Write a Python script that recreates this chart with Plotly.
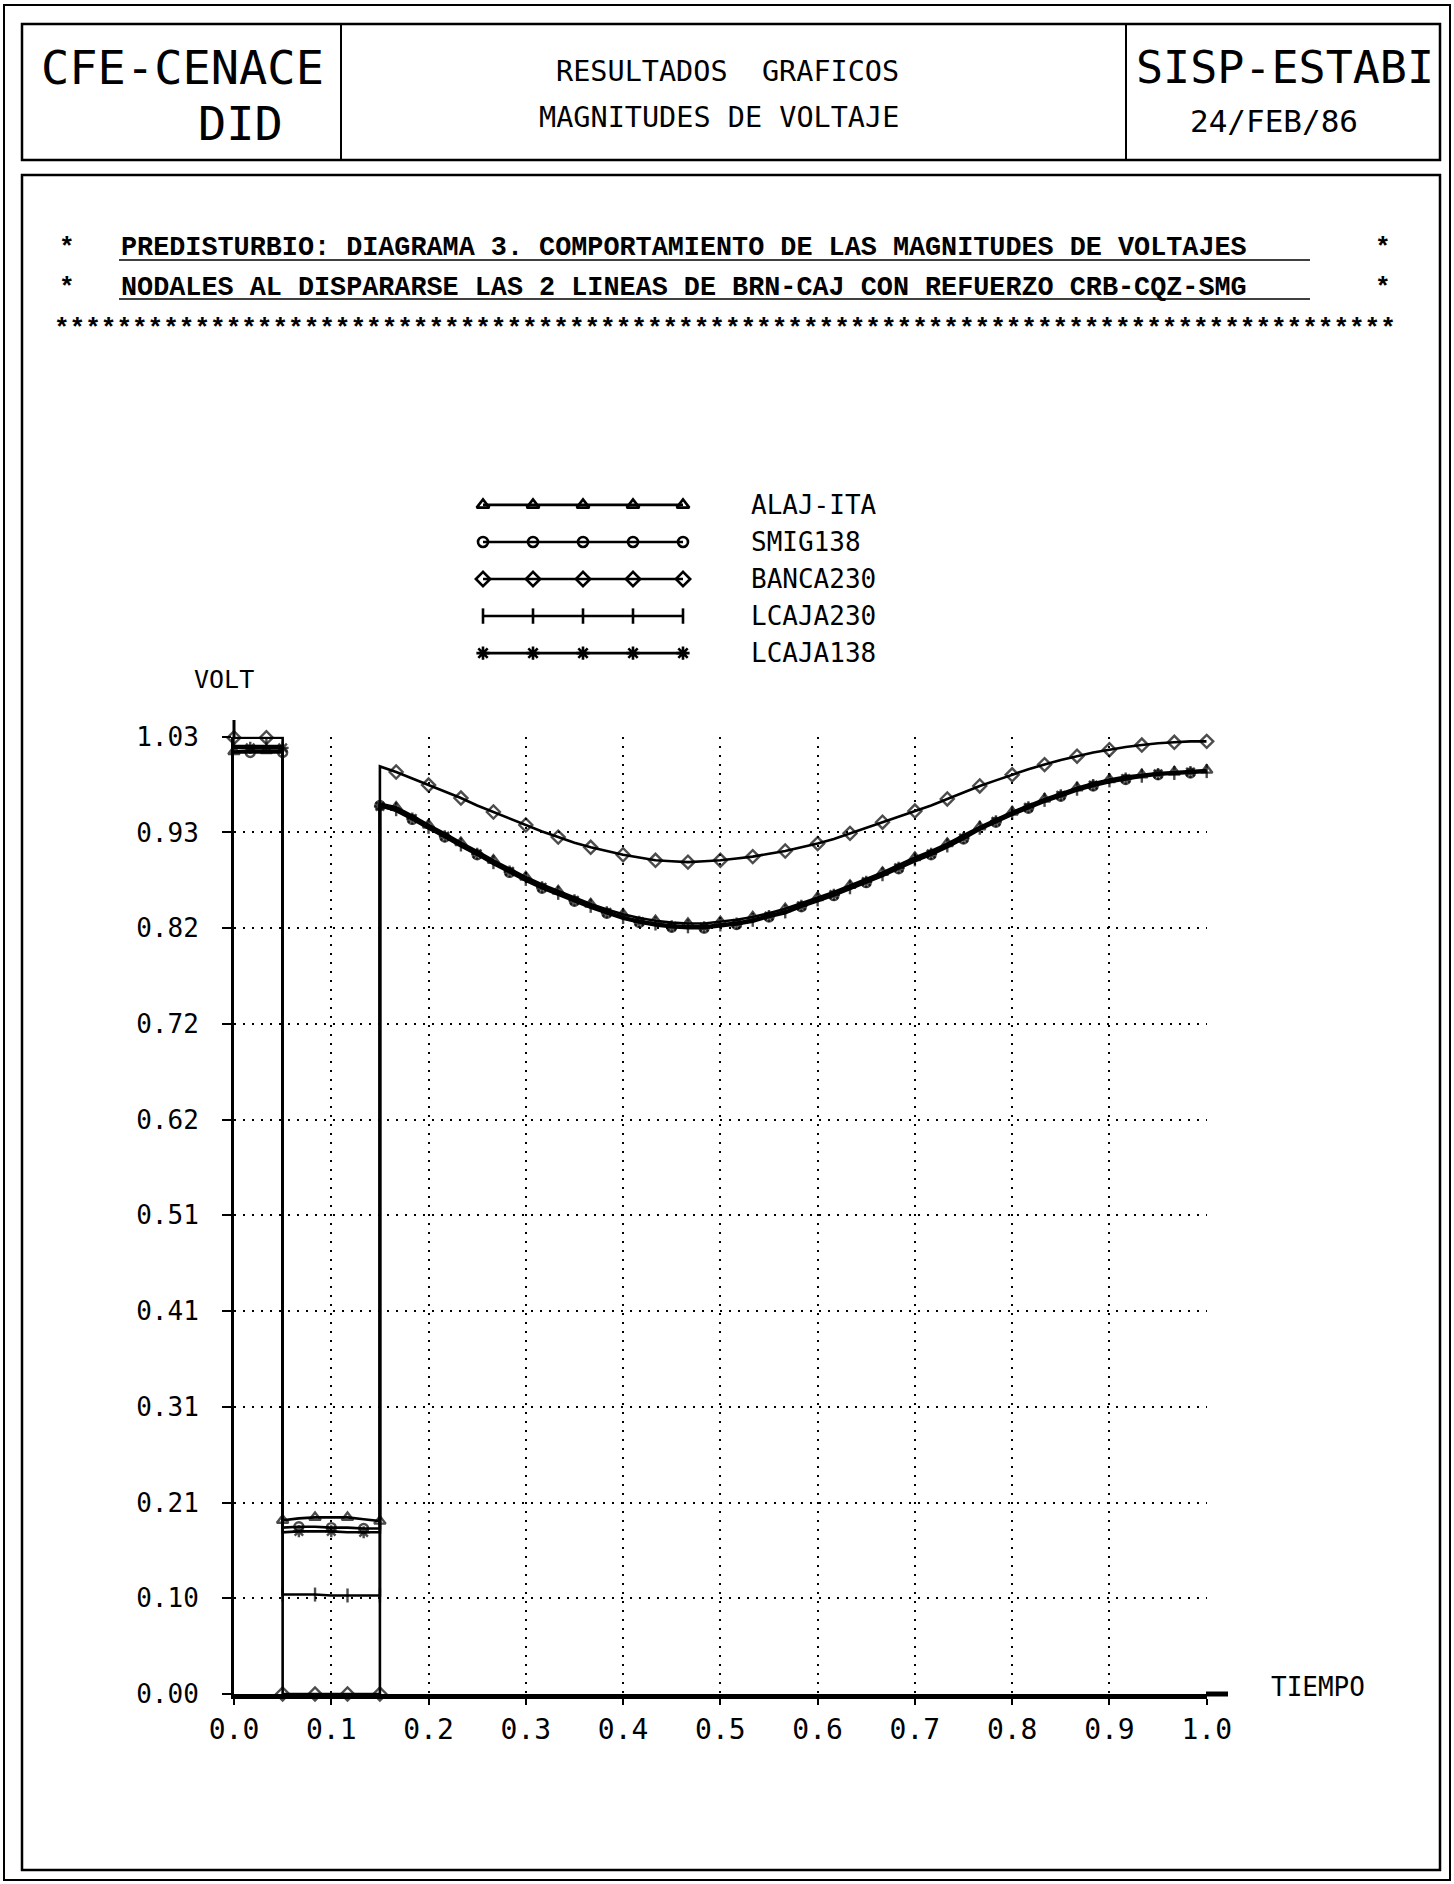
import plotly.graph_objects as go

W, H = 1454, 1884

# ---------------- data ----------------
SERIES = ["ALAJ-ITA", "SMIG138", "BANCA230", "LCAJA230", "LCAJA138"]

TIME_PRE = [0.0, 0.0167, 0.0333, 0.05]
TIME_FAULT = [0.05, 0.0667, 0.0833, 0.1, 0.1167, 0.1333, 0.15]
TIME_POST = [0.15, 0.1667, 0.1833, 0.2, 0.2167, 0.2333, 0.25, 0.2667, 0.2833, 0.3,
             0.3167, 0.3333, 0.35, 0.3667, 0.3833, 0.4, 0.4167, 0.4333, 0.45, 0.4667,
             0.4833, 0.5, 0.5167, 0.5333, 0.55, 0.5667, 0.5833, 0.6, 0.6167, 0.6333,
             0.65, 0.6667, 0.6833, 0.7, 0.7167, 0.7333, 0.75, 0.7667, 0.7833, 0.8,
             0.8167, 0.8333, 0.85, 0.8667, 0.8833, 0.9, 0.9167, 0.9333, 0.95, 0.9667,
             0.9833, 1.0]

ALAJ_PRE = [1.014, 1.015, 1.015, 1.015]
ALAJ_FAULT = [0.187, 0.189, 0.190, 0.190, 0.190, 0.188, 0.186]
ALAJ_POST = [0.958, 0.954, 0.945, 0.935, 0.926, 0.916, 0.907, 0.897, 0.888, 0.879,
             0.871, 0.864, 0.857, 0.850, 0.844, 0.839, 0.835, 0.832, 0.830, 0.829,
             0.829, 0.831, 0.833, 0.836, 0.840, 0.845, 0.851, 0.857, 0.863, 0.870,
             0.877, 0.884, 0.892, 0.900, 0.907, 0.915, 0.924, 0.933, 0.941, 0.949,
             0.956, 0.963, 0.969, 0.975, 0.980, 0.984, 0.987, 0.989, 0.991, 0.992,
             0.993, 0.994]

SMIG_PRE = [1.013, 1.013, 1.013, 1.013]
SMIG_FAULT = [0.179, 0.180, 0.180, 0.179, 0.179, 0.178, 0.178]
SMIG_POST = [0.956, 0.950, 0.941, 0.931, 0.922, 0.912, 0.903, 0.893, 0.884, 0.875,
             0.867, 0.860, 0.853, 0.846, 0.840, 0.834, 0.830, 0.827, 0.825, 0.824,
             0.824, 0.826, 0.828, 0.831, 0.836, 0.840, 0.847, 0.853, 0.859, 0.866,
             0.873, 0.880, 0.888, 0.896, 0.903, 0.911, 0.920, 0.930, 0.938, 0.946,
             0.953, 0.960, 0.966, 0.972, 0.977, 0.981, 0.984, 0.987, 0.989, 0.990,
             0.991, 0.992]

BANCA_PRE = [1.029, 1.029, 1.029, 1.029]
BANCA_FAULT = [0.0, 0.0, 0.0, 0.0, 0.0, 0.0, 0.0]
BANCA_POST = [0.998, 0.992, 0.985, 0.978, 0.971, 0.964, 0.956, 0.949, 0.942, 0.935,
              0.928, 0.922, 0.916, 0.911, 0.907, 0.903, 0.900, 0.897, 0.896, 0.895,
              0.896, 0.897, 0.899, 0.901, 0.904, 0.907, 0.911, 0.915, 0.920, 0.926,
              0.932, 0.938, 0.944, 0.950, 0.956, 0.963, 0.970, 0.977, 0.983, 0.989,
              0.995, 1.000, 1.005, 1.009, 1.013, 1.016, 1.019, 1.021, 1.023, 1.024,
              1.025, 1.025]

LC230_PRE = [1.020, 1.020, 1.020, 1.020]
LC230_FAULT = [0.107, 0.107, 0.107, 0.106, 0.106, 0.106, 0.106]
LC230_POST = [0.957, 0.952, 0.943, 0.933, 0.924, 0.914, 0.905, 0.895, 0.886, 0.877,
              0.869, 0.862, 0.855, 0.848, 0.842, 0.836, 0.832, 0.829, 0.827, 0.826,
              0.826, 0.828, 0.830, 0.833, 0.838, 0.842, 0.849, 0.855, 0.861, 0.868,
              0.875, 0.882, 0.890, 0.898, 0.905, 0.913, 0.922, 0.932, 0.940, 0.948,
              0.955, 0.962, 0.968, 0.974, 0.979, 0.983, 0.986, 0.988, 0.990, 0.991,
              0.992, 0.993]

LC138_PRE = [1.018, 1.018, 1.018, 1.018]
LC138_FAULT = [0.174, 0.175, 0.175, 0.175, 0.174, 0.174, 0.174]
LC138_POST = [0.955, 0.951, 0.942, 0.932, 0.923, 0.913, 0.904, 0.894, 0.885, 0.876,
              0.868, 0.861, 0.854, 0.847, 0.841, 0.835, 0.831, 0.828, 0.826, 0.825,
              0.825, 0.827, 0.829, 0.832, 0.837, 0.841, 0.848, 0.854, 0.860, 0.867,
              0.874, 0.881, 0.889, 0.897, 0.904, 0.912, 0.921, 0.931, 0.939, 0.947,
              0.954, 0.961, 0.967, 0.973, 0.978, 0.982, 0.985, 0.988, 0.990, 0.991,
              0.992, 0.993]

X_TICKS = [0.0, 0.1, 0.2, 0.3, 0.4, 0.5, 0.6, 0.7, 0.8, 0.9, 1.0]
X_LABELS = ["0.0", "0.1", "0.2", "0.3", "0.4", "0.5", "0.6", "0.7", "0.8", "0.9", "1.0"]
Y_TICKS = [0.0, 0.103, 0.206, 0.309, 0.412, 0.515, 0.618, 0.721, 0.824, 0.927, 1.03]
Y_LABELS = ["0.00", "0.10", "0.21", "0.31", "0.41", "0.51", "0.62", "0.72", "0.82", "0.93", "1.03"]

LEGEND_SAMPLES = [1, 2, 3, 4, 5]

# ---------------- styling ----------------
MONO = "DejaVu Sans Mono"
TYPE = "Liberation Mono"
INK = "black"

STYLE = {
    "ALAJ-ITA": dict(symbol="triangle-up-open", size=10, phase=0),
    "SMIG138": dict(symbol="circle-open", size=9, phase=1),
    "BANCA230": dict(symbol="diamond-open", size=10, phase=0),
    "LCAJA230": dict(symbol="line-ns-open", size=10, phase=0),
    "LCAJA138": dict(symbol="asterisk-open", size=10, phase=1),
}

DATA = {
    "ALAJ-ITA": (ALAJ_PRE, ALAJ_FAULT, ALAJ_POST),
    "SMIG138": (SMIG_PRE, SMIG_FAULT, SMIG_POST),
    "BANCA230": (BANCA_PRE, BANCA_FAULT, BANCA_POST),
    "LCAJA230": (LC230_PRE, LC230_FAULT, LC230_POST),
    "LCAJA138": (LC138_PRE, LC138_FAULT, LC138_POST),
}


def px(x):
    return x / W


def py(y):
    return 1 - y / H


fig = go.Figure()

TIME = TIME_PRE + TIME_FAULT + TIME_POST
for name in SERIES:
    pre, fault, post = DATA[name]
    vals = pre + fault + post
    st = STYLE[name]
    sizes = [st["size"] if i % 2 == st["phase"] else 0 for i in range(len(vals))]
    fig.add_trace(go.Scatter(
        x=TIME, y=vals, mode="lines+markers", name=name,
        line=dict(color=INK, width=2.6),
        marker=dict(symbol=st["symbol"], size=sizes, color=INK,
                    line=dict(color=INK, width=2.4)),
        cliponaxis=False, xaxis="x", yaxis="y", showlegend=False,
    ))
    # key sample drawn on its own small axis
    fig.add_trace(go.Scatter(
        x=LEGEND_SAMPLES, y=[name] * len(LEGEND_SAMPLES), mode="lines+markers",
        line=dict(color=INK, width=2.6),
        marker=dict(symbol=st["symbol"], size=st["size"] + 1, color=INK,
                    line=dict(color=INK, width=2.6)),
        cliponaxis=False, xaxis="x2", yaxis="y2", showlegend=False,
    ))

# ---------------- frames / decorations ----------------
shapes = []


def rect(x0, y0, x1, y1, w=2):
    shapes.append(dict(type="rect", xref="paper", yref="paper",
                       x0=px(x0), x1=px(x1), y0=py(y1), y1=py(y0),
                       line=dict(color=INK, width=w), layer="above"))


def hline(x0, x1, y, w=1.5, dash="solid"):
    shapes.append(dict(type="line", xref="paper", yref="paper",
                       x0=px(x0), x1=px(x1), y0=py(y), y1=py(y),
                       line=dict(color=INK, width=w, dash=dash)))


def vline(x, y0, y1, w=2):
    shapes.append(dict(type="line", xref="paper", yref="paper",
                       x0=px(x), x1=px(x), y0=py(y0), y1=py(y1),
                       line=dict(color=INK, width=w)))


rect(4, 5, 1450, 1880, 2)          # page border
rect(22, 24, 1440, 160, 2.5)       # header box
vline(341, 24, 160, 2)
vline(1126, 24, 160, 2)
rect(22, 175, 1440, 1870, 2.5)     # main box

# title underlines
hline(119, 1310, 260, 1.5)
hline(119, 1310, 299, 1.5)

# axis line extensions beyond the plotted range
vline(234, 720, 738, 3)
hline(1206, 1228, 1694, 5)

annotations = []


def text(s, x, y, size, font=MONO, xanchor="center", weight="normal"):
    annotations.append(dict(text=s, x=px(x), y=py(y), xref="paper", yref="paper",
                            xanchor=xanchor, yanchor="middle", showarrow=False,
                            font=dict(family=font, size=size, color=INK, weight=weight)))


text("CFE-CENACE", 182, 68, 47)
text("DID", 240, 124, 47)
text("RESULTADOS  GRAFICOS", 727, 71, 28.5)
text("MAGNITUDES DE VOLTAJE", 719, 118, 28.5)
text("SISP-ESTABI", 1285, 68, 45)
text("24/FEB/86", 1274, 121, 31)

text("PREDISTURBIO: DIAGRAMA 3. COMPORTAMIENTO DE LAS MAGNITUDES DE VOLTAJES",
     119, 248, 26.8, TYPE, "left", "bold")
text("NODALES AL DISPARARSE LAS 2 LINEAS DE BRN-CAJ CON REFUERZO CRB-CQZ-SMG",
     119, 288, 26.8, TYPE, "left", "bold")
text("*", 67, 248, 26, TYPE, weight="bold")
text("*", 67, 288, 26, TYPE, weight="bold")
text("*", 1383, 248, 26, TYPE, weight="bold")
text("*", 1383, 288, 26, TYPE, weight="bold")
text("*" * 86, 725, 329, 26, TYPE, weight="bold")

text("VOLT", 224, 680, 25)
text("TIEMPO", 1318, 1687, 26)

fig.update_layout(
    template="none",
    width=W, height=H,
    margin=dict(l=0, r=0, t=0, b=0, pad=0, autoexpand=False),
    paper_bgcolor="white", plot_bgcolor="white",
    showlegend=False,
    shapes=shapes, annotations=annotations,
    xaxis=dict(
        domain=[px(234), px(1206.7)], range=[0, 1.0], automargin=False,
        tickvals=X_TICKS, ticktext=X_LABELS,
        ticks="outside", ticklen=6, tickwidth=2, tickcolor=INK,
        ticklabelstandoff=0,
        tickfont=dict(family=MONO, size=28, color=INK),
        showgrid=True, gridcolor=INK, gridwidth=2, griddash="2px,7px",
        showline=True, linecolor=INK, linewidth=5,
        zeroline=False, anchor="y",
    ),
    yaxis=dict(
        domain=[py(1694), py(736.7)], range=[0, 1.03], automargin=False,
        tickvals=Y_TICKS, ticktext=Y_LABELS,
        ticks="outside", ticklen=9, tickwidth=2, tickcolor=INK,
        ticklabelstandoff=18,
        tickfont=dict(family=MONO, size=26, color=INK),
        showgrid=True, gridcolor=INK, gridwidth=2, griddash="2px,7px",
        showline=True, linecolor=INK, linewidth=3,
        zeroline=False, anchor="x",
    ),
    xaxis2=dict(
        domain=[px(458), px(708)], range=[0.5, 5.5], automargin=False,
        showgrid=False, zeroline=False, showline=False, showticklabels=False,
        ticks="", anchor="y2",
    ),
    yaxis2=dict(
        domain=[py(669), py(489)], type="category", automargin=False,
        categoryorder="array", categoryarray=SERIES, autorange="reversed",
        side="right", anchor="x2",
        showgrid=False, zeroline=False, showline=False, ticks="",
        ticklabelstandoff=42,
        tickfont=dict(family=MONO, size=26, color=INK),
    ),
)

fig.write_html("out.html")
